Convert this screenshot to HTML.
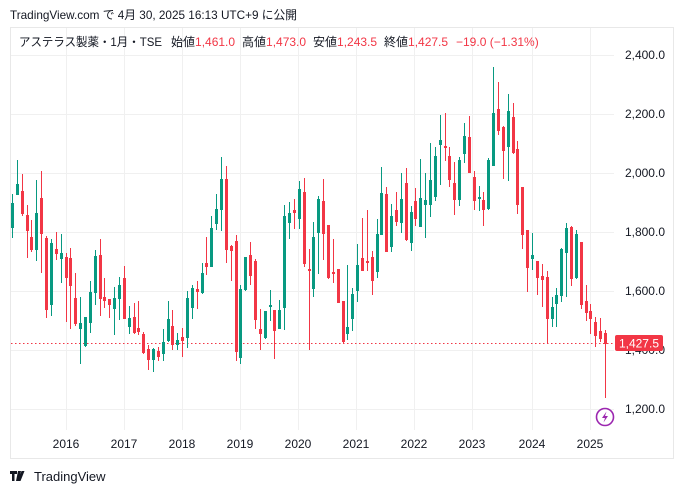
<!DOCTYPE html>
<html><head><meta charset="utf-8"><style>
body{margin:0;background:#fff;width:684px;height:494px;overflow:hidden;font-family:"Liberation Sans","Noto Sans CJK JP",sans-serif;}
svg{position:absolute;left:0;top:0}
</style></head><body>
<svg id="s" width="684" height="494" xmlns="http://www.w3.org/2000/svg" font-family="Liberation Sans, Noto Sans CJK JP, sans-serif">
<rect x="10.5" y="27.5" width="663" height="431" fill="none" stroke="#e8e8e8"/>
<g stroke="#f0f0f0" stroke-width="1">
<line x1="11" x2="614" y1="55.5" y2="55.5"/><line x1="11" x2="614" y1="114.5" y2="114.5"/><line x1="11" x2="614" y1="173.5" y2="173.5"/><line x1="11" x2="614" y1="232.5" y2="232.5"/><line x1="11" x2="614" y1="291.5" y2="291.5"/><line x1="11" x2="614" y1="350.5" y2="350.5"/><line x1="11" x2="614" y1="409.5" y2="409.5"/>
<line x1="66.5" x2="66.5" y1="28" y2="430"/><line x1="124.5" x2="124.5" y1="28" y2="430"/><line x1="182.5" x2="182.5" y1="28" y2="430"/><line x1="240.5" x2="240.5" y1="28" y2="430"/><line x1="298.5" x2="298.5" y1="28" y2="430"/><line x1="356.5" x2="356.5" y1="28" y2="430"/><line x1="414.5" x2="414.5" y1="28" y2="430"/><line x1="472.5" x2="472.5" y1="28" y2="430"/><line x1="532.5" x2="532.5" y1="28" y2="430"/><line x1="590.5" x2="590.5" y1="28" y2="430"/>
</g>
<line x1="11" x2="614" y1="343.5" y2="343.5" stroke="#F23645" stroke-dasharray="1.5,2.5"/>
<g id="c"></g>
<g font-size="12" fill="#131722" text-anchor="end">
<text x="665" y="59">2,400.0</text><text x="665" y="118">2,200.0</text><text x="665" y="177">2,000.0</text><text x="665" y="236">1,800.0</text><text x="665" y="295">1,600.0</text><text x="665" y="354">1,400.0</text><text x="665" y="413">1,200.0</text>
</g>
<rect x="615" y="335" width="48" height="16" rx="2" fill="#F23645"/>
<text x="659" y="347.5" font-size="12" fill="#fff" text-anchor="end">1,427.5</text>
<g font-size="12" fill="#131722" text-anchor="middle">
<text x="66" y="448">2016</text><text x="124" y="448">2017</text><text x="182" y="448">2018</text><text x="240" y="448">2019</text><text x="298" y="448">2020</text><text x="356" y="448">2021</text><text x="414" y="448">2022</text><text x="472" y="448">2023</text><text x="532" y="448">2024</text><text x="590" y="448">2025</text>
</g>
<circle cx="605" cy="417" r="8.5" fill="#fff" stroke="#9c27b0" stroke-width="1.6"/>
<path d="M606.5 411.5 L602 418 L605 418 L603.5 422.5 L608 416 L605 416 Z" fill="#9c27b0"/>
<text x="10" y="19" font-size="12" fill="#131722" textLength="287" lengthAdjust="spacingAndGlyphs">TradingView.com で 4月 30, 2025 16:13 UTC+9 に公開</text>
<g font-size="12" fill="#131722">
<text x="19" y="46" textLength="143" lengthAdjust="spacingAndGlyphs">アステラス製薬・1月・TSE</text>
<text x="171" y="46">始値<tspan fill="#F23645">1,461.0</tspan></text>
<text x="242" y="46">高値<tspan fill="#F23645">1,473.0</tspan></text>
<text x="313" y="46">安値<tspan fill="#F23645">1,243.5</tspan></text>
<text x="384" y="46">終値<tspan fill="#F23645">1,427.5</tspan></text>
<text x="456" y="46" fill="#F23645">−19.0 (−1.31%)</text>
</g>
<path d="M10 471h7v3h-2.5v7h-2.5v-7h-2z M18 471h3l-2 10h-3z M21.5 471h3l-4 10h-2.5z" fill="#131722"/>
<text x="34" y="481" font-size="13" fill="#131722">TradingView</text>
</svg>
<script>
var d=[[12,'g',203,228,194,238],[17,'g',184,195,160,195],[22,'r',191,214,174,216],[27,'r',215,231,205,258],[31,'r',237,250,220,252],[36,'g',213,250,180,261],[41,'r',198,234,171,273],[46,'r',238,310,236,318],[51,'g',243,305,239,316],[56,'r',249,254,232,260],[61,'g',253,259,234,283],[66,'r',257,278,253,322],[70,'r',258,286,248,329],[75,'r',298,324,273,326],[80,'g',323,329,297,364],[85,'g',317,346,317,347],[90,'g',292,323,281,333],[95,'g',256,293,250,305],[100,'r',255,299,239,316],[104,'r',297,301,278,308],[109,'r',299,305,299,318],[114,'g',298,309,287,335],[119,'g',285,299,277,320],[124,'r',278,319,266,319],[129,'g',318,327,306,334],[134,'r',317,333,303,334],[138,'r',328,332,301,335],[143,'r',334,353,332,354],[148,'r',349,360,345,370],[153,'g',349,360,348,372],[158,'r',351,357,347,361],[163,'g',342,354,329,361],[168,'g',319,341,301,342],[172,'r',326,345,310,350],[177,'g',340,345,333,350],[182,'r',337,341,328,357],[187,'g',298,338,291,348],[192,'g',288,308,285,319],[197,'r',289,292,281,309],[202,'g',273,293,263,294],[206,'r',263,267,237,275],[211,'g',228,267,216,267],[216,'g',209,224,194,230],[221,'g',179,210,157,231],[226,'r',179,250,166,263],[231,'r',246,251,245,281],[236,'r',241,352,235,361],[240,'g',289,358,285,364],[245,'g',257,290,257,291],[250,'r',255,276,242,285],[255,'r',261,320,259,329],[260,'r',329,334,309,350],[265,'g',311,338,311,339],[270,'g',305,307,290,321],[274,'r',310,331,310,359],[279,'g',310,329,300,329],[284,'g',216,308,205,330],[289,'g',213,223,202,239],[294,'r',210,213,199,229],[299,'g',189,219,181,229],[304,'r',192,264,178,267],[309,'r',269,271,249,350],[313,'g',237,289,222,297],[318,'g',199,233,196,274],[323,'r',201,234,179,260],[328,'r',225,278,225,279],[333,'r',272,274,239,283],[338,'r',269,303,269,303],[343,'r',301,342,301,343],[347,'g',327,334,265,340],[352,'g',294,319,288,331],[357,'g',265,291,244,302],[362,'r',258,271,218,271],[367,'r',261,263,210,271],[372,'r',257,281,251,295],[377,'g',234,272,219,278],[381,'g',193,235,167,235],[386,'r',194,252,187,252],[391,'g',216,247,204,252],[396,'r',210,222,192,226],[401,'g',199,223,173,233],[406,'r',183,240,168,241],[411,'g',212,243,206,251],[415,'r',201,219,188,226],[420,'g',198,227,159,227],[425,'g',200,205,173,238],[430,'g',180,205,143,217],[435,'g',156,197,147,201],[440,'g',140,145,115,185],[445,'r',146,148,113,161],[449,'r',156,180,147,187],[454,'r',183,200,162,215],[459,'g',160,200,157,206],[464,'g',136,154,123,163],[469,'r',137,173,116,173],[474,'r',177,201,171,210],[479,'g',197,199,186,211],[483,'r',200,210,192,226],[488,'g',160,209,158,210],[493,'g',113,166,67,166],[498,'r',109,131,82,135],[503,'r',127,151,126,179],[508,'g',111,147,94,181],[513,'r',117,153,103,154],[517,'r',149,205,141,214],[522,'r',187,235,187,249],[527,'r',230,268,230,292],[532,'g',255,259,233,270],[537,'r',261,278,261,295],[542,'r',276,280,264,307],[547,'r',277,319,271,344],[552,'g',307,319,297,327],[556,'g',295,304,288,327],[561,'g',249,296,248,302],[566,'g',228,253,223,297],[571,'r',227,279,226,286],[576,'g',234,278,230,279],[581,'r',242,305,242,309],[586,'r',301,313,285,321],[590,'r',311,319,304,334],[595,'r',322,336,317,347],[600,'r',331,339,318,342],[605,'r',333,344,330,398]];
var h='';d.forEach(function(c){var col=c[1]=='g'?'#089981':'#F23645';var bh=Math.max(1.5,c[3]-c[2]);
h+='<line x1="'+(c[0]+0.5)+'" x2="'+(c[0]+0.5)+'" y1="'+c[4]+'" y2="'+c[5]+'" stroke="'+col+'" stroke-width="1"/>';
h+='<rect x="'+(c[0]-1)+'" y="'+c[2]+'" width="3" height="'+bh+'" fill="'+col+'"/>';});
document.getElementById('c').innerHTML=h;
</script>
</body></html>
